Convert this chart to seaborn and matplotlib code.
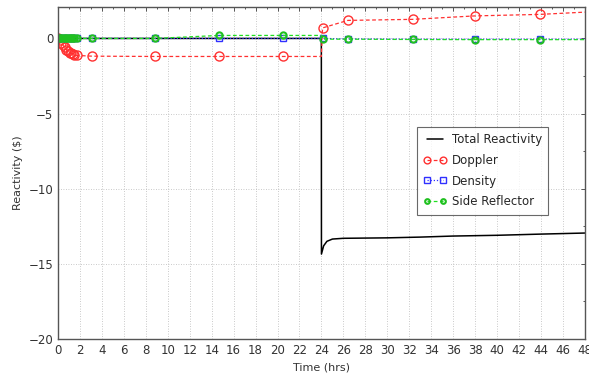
import matplotlib
matplotlib.use("Agg")
import matplotlib.pyplot as plt
import seaborn as sns
import numpy as np
import pandas as pd
from matplotlib.ticker import MultipleLocator

# ---- data ----
total_t = [0, 23.99, 24.0, 24.2, 24.5, 25.0, 26.0, 30.0, 33.0, 36.0, 40.0, 44.0, 48.0]
total_v = [0, 0, -14.35, -13.8, -13.5, -13.35, -13.3, -13.27, -13.22, -13.15, -13.1, -13.02, -12.95]

comp_t = [0, 0.15, 0.3, 0.45, 0.6, 0.75, 0.9, 1.05, 1.2, 1.35, 1.5, 1.7,
          3.1, 8.8, 14.7, 20.5, 23.99, 24.1, 26.4, 32.3, 38.0, 43.9, 48.0]
doppler_v = [0, -0.12, -0.28, -0.45, -0.6, -0.74, -0.85, -0.94, -1.0, -1.05, -1.09, -1.13,
             -1.18, -1.2, -1.2, -1.2, -1.2, 0.7, 1.2, 1.27, 1.5, 1.6, 1.75]
density_v = [0, 0, 0, 0, 0, 0, 0, 0, 0, 0, 0, 0,
             0, 0, 0, 0, 0, 0, -0.03, -0.05, -0.05, -0.05, -0.05]
side_v = [0, 0, 0, 0, 0, 0, 0, 0, 0, 0, 0, 0,
          0, 0, 0.2, 0.2, 0.2, -0.05, -0.05, -0.07, -0.08, -0.08, -0.08]
marker_idx = list(range(0, 16)) + list(range(17, 22))

x_ticks = list(range(0, 49, 2))
y_ticks = [-20, -15, -10, -5, 0]

labels = ["Total Reactivity", "Doppler", "Density", "Side Reflector"]

sns.set_theme(style="white")
plt.rcParams['font.family'] = ['DejaVu Sans']

fig = plt.figure(figsize=(5.89, 3.82), dpi=100)
ax = fig.add_axes([0.0985, 0.1126, 0.8945, 0.8694])

df_tot = pd.DataFrame({"t": total_t, "v": total_v})
df_c = pd.DataFrame({"t": comp_t, "dop": doppler_v, "den": density_v, "side": side_v})

sns.lineplot(data=df_tot, x="t", y="v", ax=ax, color="black", lw=1.1,
             label=labels[0], sort=False, estimator=None)
sns.lineplot(data=df_c, x="t", y="dop", ax=ax, color="#ff3030", lw=0.9, ls=(0, (3, 2)),
             marker="o", markersize=6.5, markerfacecolor="none", markeredgecolor="#ff3030",
             markeredgewidth=1.0, markevery=marker_idx, label=labels[1], sort=False, estimator=None)
sns.lineplot(data=df_c, x="t", y="den", ax=ax, color="#3030ff", lw=0.9, ls=(0, (1, 1.5)),
             marker="s", markersize=5, markerfacecolor="none", markeredgecolor="#3030ff",
             markeredgewidth=1.0, markevery=marker_idx, label=labels[2], sort=False, estimator=None)
sns.lineplot(data=df_c, x="t", y="side", ax=ax, color="#20e020", lw=0.9, ls=(0, (3, 2)),
             marker="o", markersize=4.5, markerfacecolor="none", markeredgecolor="#20c020",
             markeredgewidth=1.5, markevery=marker_idx, label=labels[3], sort=False, estimator=None)

ax.set_xlim(0, 48)
ax.set_ylim(-20, 2.1)
ax.set_xticks(x_ticks)
ax.set_yticks(y_ticks)
ax.yaxis.set_minor_locator(MultipleLocator(2.5))
ax.xaxis.set_minor_locator(MultipleLocator(1))
ax.tick_params(axis="both", which="both", direction="in", labelsize=8.5, colors="#555555",
               labelcolor="#333333", top=True, right=True, width=0.7)
ax.tick_params(which="major", length=3)
ax.tick_params(which="minor", length=1.5)
ax.grid(True, which="major", ls=(0, (1, 2)), color="#b8b8b8", lw=0.6)
for s in ax.spines.values():
    s.set_color("#555555")
    s.set_linewidth(1.0)

ax.set_xlabel("Time (hrs)", fontsize=8, color="#333333", labelpad=4)
ax.set_ylabel("Reactivity (\\$)", fontsize=8, color="#333333", labelpad=4)

leg = ax.legend(loc="upper left", bbox_to_anchor=(0.681, 0.639), fontsize=8.5, frameon=True,
                fancybox=False, edgecolor="#444444", handlelength=2.0, borderpad=0.55,
                labelspacing=0.65, handletextpad=0.4, numpoints=2, borderaxespad=0,
                markerscale=0.75)
leg.get_frame().set_linewidth(0.8)

fig.savefig("out.png", dpi=100, facecolor="white")
